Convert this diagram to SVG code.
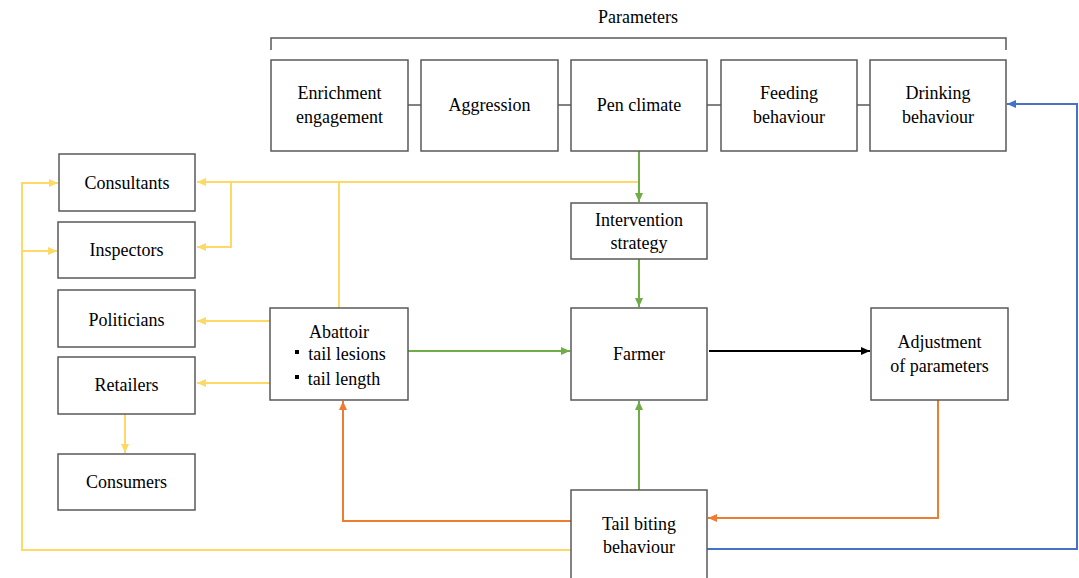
<svg xmlns="http://www.w3.org/2000/svg" width="1079" height="578" viewBox="0 0 1079 578">
<style>
.box{fill:#fff;stroke:#595959;stroke-width:1.5}
.t{font-family:'Liberation Serif','Times New Roman','DejaVu Serif',serif;font-size:18px;fill:#000;text-anchor:middle}
.y{stroke:#FFD966;stroke-width:2;fill:none}
.g{stroke:#70AD47;stroke-width:2;fill:none}
.o{stroke:#ED7D31;stroke-width:2;fill:none}
.b{stroke:#4472C4;stroke-width:2;fill:none}
.k{stroke:#000;stroke-width:2;fill:none}
</style>
<defs>
<marker id="ay" markerUnits="userSpaceOnUse" markerWidth="10" markerHeight="10" refX="9" refY="5" orient="auto"><path d="M0,1 L9,5 L0,9 Z" fill="#FFD966"/></marker>
<marker id="ag" markerUnits="userSpaceOnUse" markerWidth="10" markerHeight="10" refX="9" refY="5" orient="auto"><path d="M0,1 L9,5 L0,9 Z" fill="#70AD47"/></marker>
<marker id="ao" markerUnits="userSpaceOnUse" markerWidth="10" markerHeight="10" refX="9" refY="5" orient="auto"><path d="M0,1 L9,5 L0,9 Z" fill="#ED7D31"/></marker>
<marker id="ab" markerUnits="userSpaceOnUse" markerWidth="10" markerHeight="10" refX="9" refY="5" orient="auto"><path d="M0,1 L9,5 L0,9 Z" fill="#4472C4"/></marker>
<marker id="ak" markerUnits="userSpaceOnUse" markerWidth="10" markerHeight="10" refX="9" refY="5" orient="auto"><path d="M0,1 L9,5 L0,9 Z" fill="#000"/></marker>
</defs>
<rect width="1079" height="578" fill="#fff"/>

<g id="parameters-label">
<text class="t" x="638" y="23">Parameters</text>
<path d="M271,50 V38 H1006 V50" stroke="#595959" stroke-width="1.5" fill="none"/>
</g>

<g id="connectors">
<path d="M408,105 H421 M558,105 H571 M707,105 H721 M857,105 H870" stroke="#595959" stroke-width="1.5" fill="none"/>
<path class="y" d="M639,182 H197" marker-end="url(#ay)"/>
<path class="y" d="M231,182 V247 H197" marker-end="url(#ay)"/>
<path class="y" d="M339,308 V182"/>
<path class="y" d="M270,321 H197" marker-end="url(#ay)"/>
<path class="y" d="M270,383 H197" marker-end="url(#ay)"/>
<path class="y" d="M125,414 V453" marker-end="url(#ay)"/>
<path class="y" d="M571,550 H22 V183 H58" marker-end="url(#ay)"/>
<path class="y" d="M22,251 H57" marker-end="url(#ay)"/>
<path class="g" d="M639,151 V202" marker-end="url(#ag)"/>
<path class="g" d="M639,259 V307" marker-end="url(#ag)"/>
<path class="g" d="M408,351 H570" marker-end="url(#ag)"/>
<path class="g" d="M639,490 V401" marker-end="url(#ag)"/>
<path class="k" d="M709,351 H870" marker-end="url(#ak)"/>
<path class="o" d="M938,400 V518 H708" marker-end="url(#ao)"/>
<path class="o" d="M571,521 H343 V401" marker-end="url(#ao)"/>
<path class="b" d="M707,549 H1077 V104 H1007" marker-end="url(#ab)"/>
</g>

<g id="enrichment"><rect class="box" x="271" y="60" width="137" height="91"/><text class="t" x="339.5" y="99">Enrichment</text><text class="t" x="339.5" y="123">engagement</text></g>
<g id="aggression"><rect class="box" x="421" y="60" width="137" height="91"/><text class="t" x="489.5" y="111">Aggression</text></g>
<g id="pen-climate"><rect class="box" x="571" y="60" width="136" height="91"/><text class="t" x="639" y="111">Pen climate</text></g>
<g id="feeding"><rect class="box" x="721" y="60" width="136" height="91"/><text class="t" x="789" y="99">Feeding</text><text class="t" x="789" y="123">behaviour</text></g>
<g id="drinking"><rect class="box" x="870" y="60" width="136" height="91"/><text class="t" x="938" y="99">Drinking</text><text class="t" x="938" y="123">behaviour</text></g>

<g id="consultants"><rect class="box" x="59" y="154" width="136" height="57"/><text class="t" x="127" y="189">Consultants</text></g>
<g id="inspectors"><rect class="box" x="58" y="222" width="137" height="56"/><text class="t" x="126.5" y="256">Inspectors</text></g>
<g id="politicians"><rect class="box" x="58" y="290" width="137" height="57"/><text class="t" x="126.5" y="326">Politicians</text></g>
<g id="retailers"><rect class="box" x="58" y="357" width="137" height="57"/><text class="t" x="126.5" y="391">Retailers</text></g>
<g id="consumers"><rect class="box" x="58" y="454" width="137" height="56"/><text class="t" x="126.5" y="488">Consumers</text></g>

<g id="intervention"><rect class="box" x="571" y="203" width="136" height="56"/><text class="t" x="639" y="226">Intervention</text><text class="t" x="639" y="249">strategy</text></g>

<g id="abattoir"><rect class="box" x="270" y="308" width="138" height="92"/>
<text class="t" x="339" y="338">Abattoir</text>
<rect x="295" y="350" width="4" height="4" fill="#000"/><text class="t" x="347" y="360">tail lesions</text>
<rect x="295" y="375" width="4" height="4" fill="#000"/><text class="t" x="344" y="385">tail length</text>
</g>
<g id="farmer"><rect class="box" x="571" y="308" width="136" height="92"/><text class="t" x="639" y="360">Farmer</text></g>
<g id="adjustment"><rect class="box" x="871" y="308" width="137" height="92"/><text class="t" x="939.5" y="348">Adjustment</text><text class="t" x="939.5" y="372">of parameters</text></g>
<g id="tail-biting"><rect class="box" x="571" y="490" width="136" height="100"/><text class="t" x="639" y="530">Tail biting</text><text class="t" x="639" y="553">behaviour</text></g>
</svg>
